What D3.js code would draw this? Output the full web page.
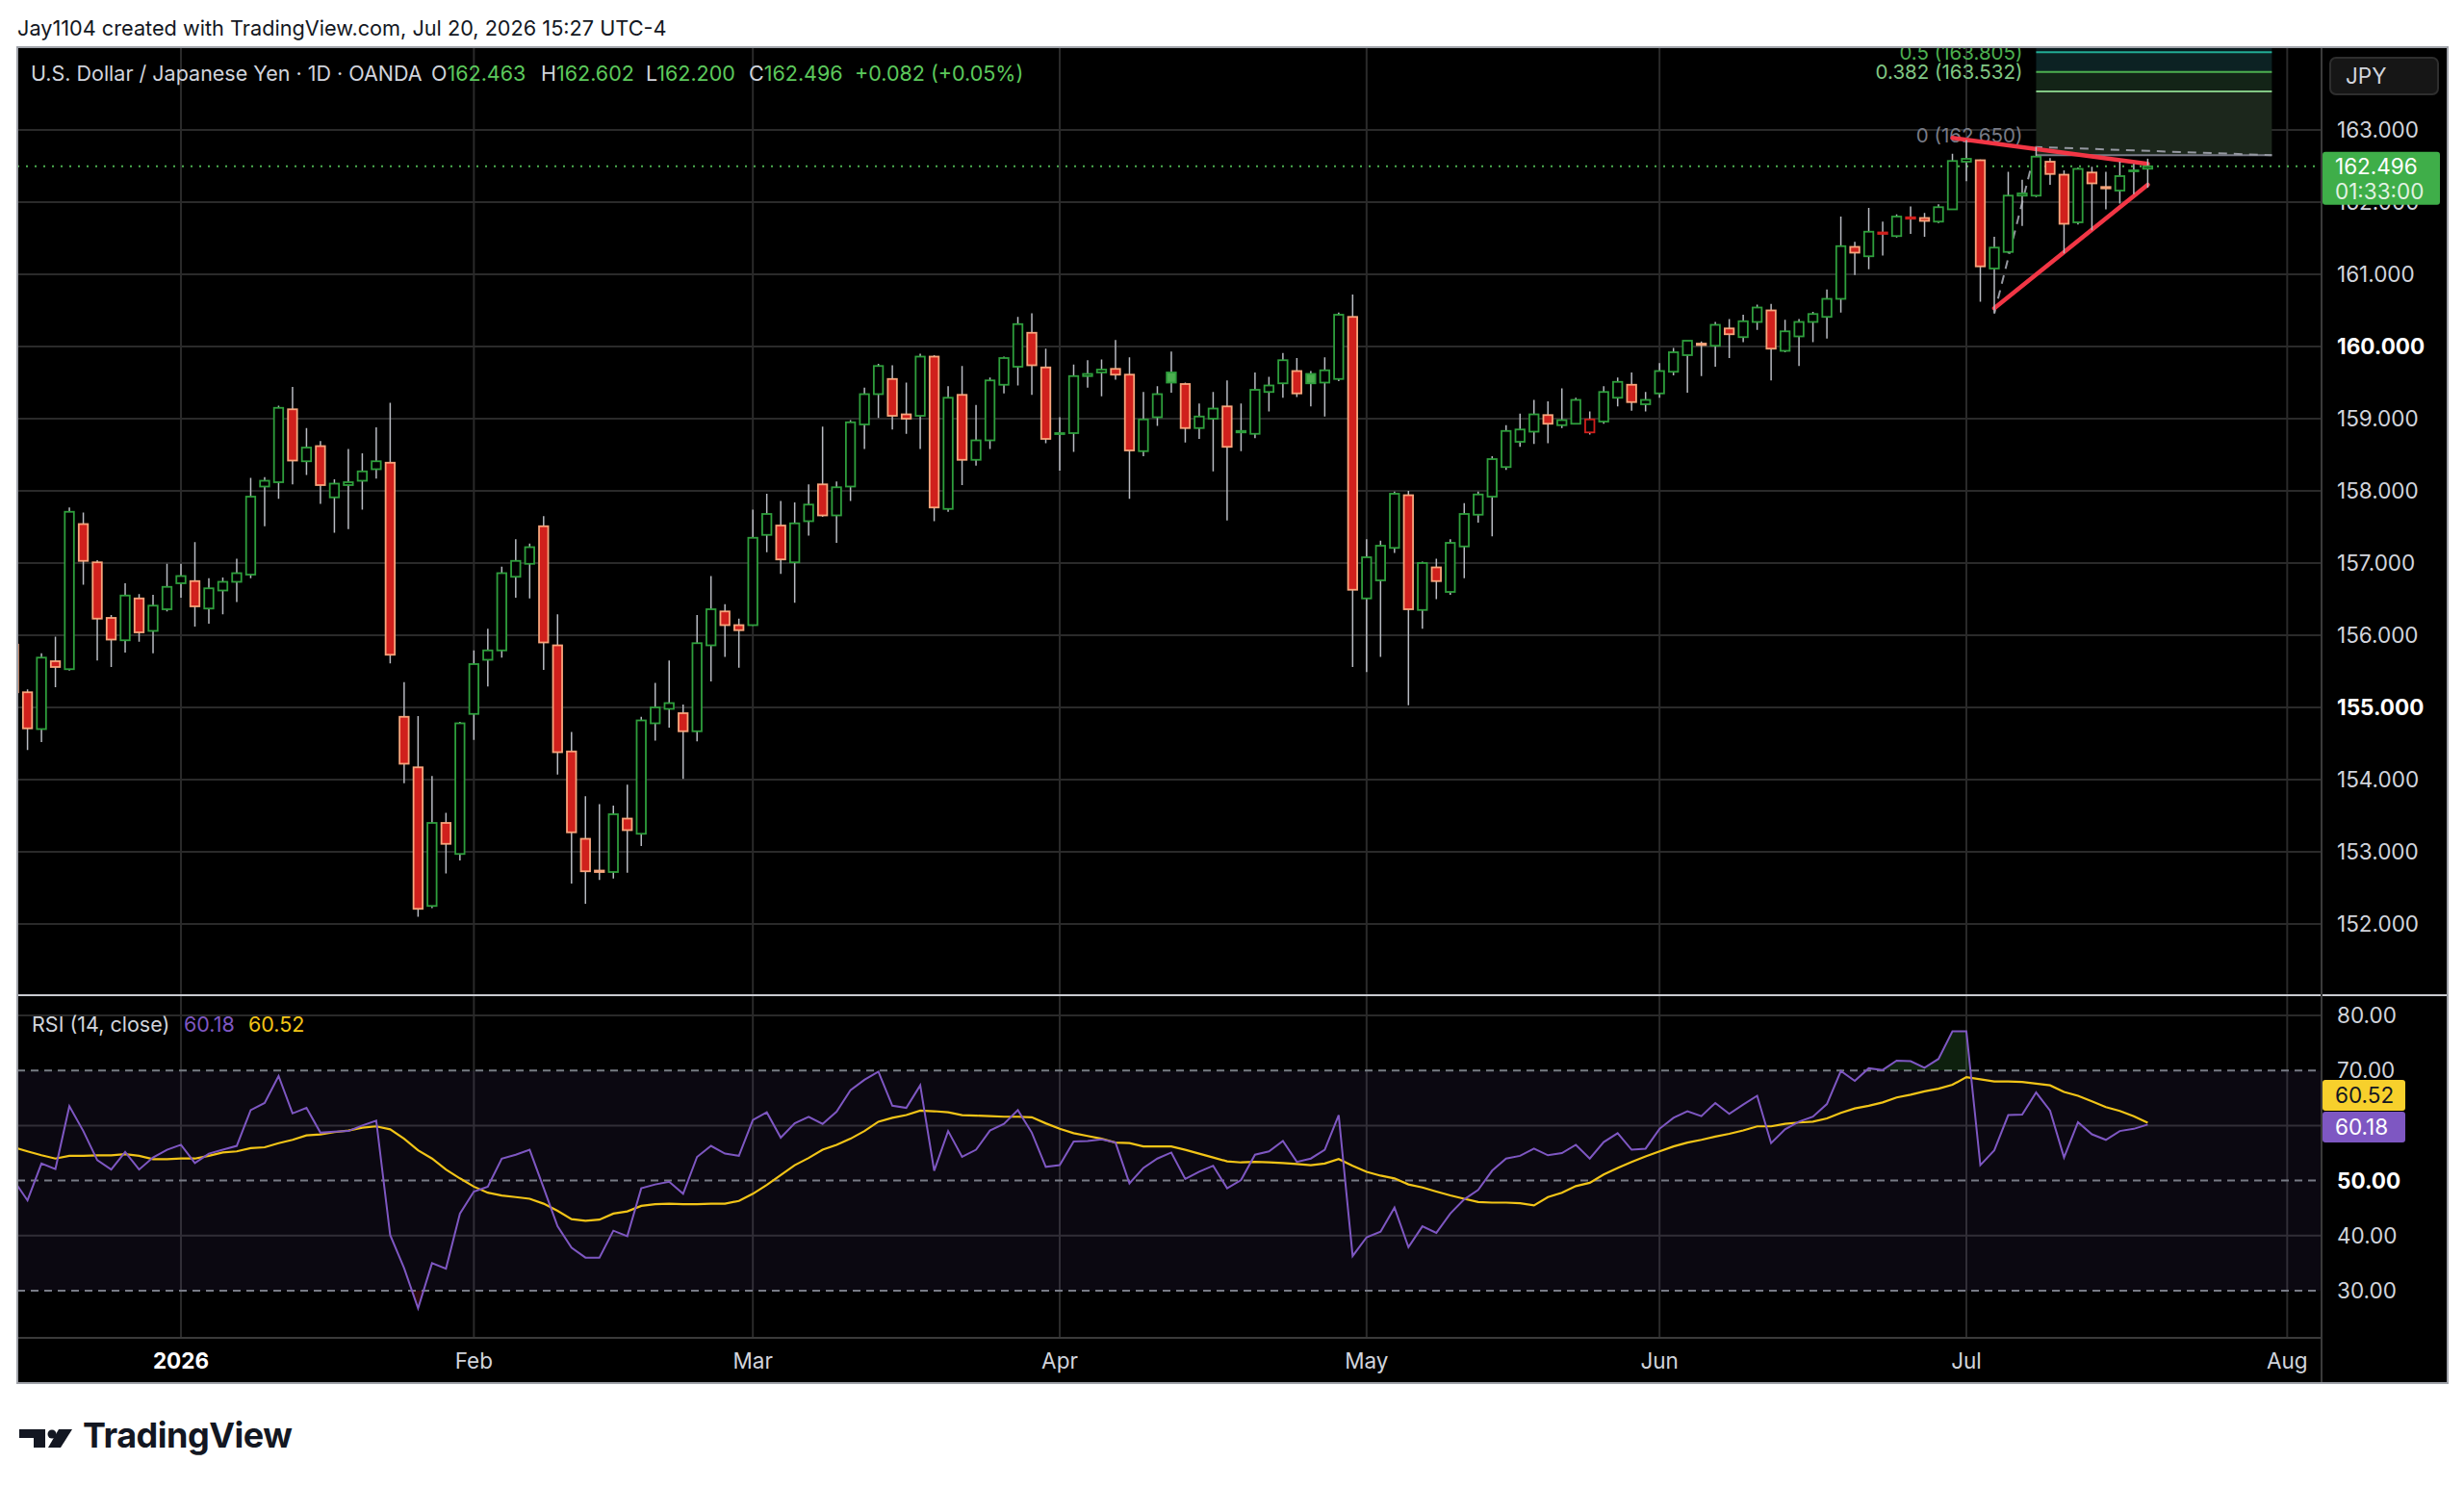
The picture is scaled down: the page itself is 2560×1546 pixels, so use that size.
<!DOCTYPE html>
<html><head><meta charset="utf-8">
<script src="https://cdn.jsdelivr.net/npm/d3@7/dist/d3.min.js"></script>
<style>
html,body{margin:0;padding:0;background:#fff;}
svg{display:block;font-family:Inter,Roboto,"Liberation Sans",sans-serif;}
</style></head><body>
<svg id="c" width="2560" height="1546"></svg>
<script>
// ---------- DATA ----------
const opens=[155.87,155.21,154.70,155.64,155.53,157.54,157.01,156.24,155.93,156.51,
156.06,156.36,156.72,156.75,156.37,156.62,156.74,156.84,158.06,158.12,
159.13,158.41,158.62,157.91,158.08,158.14,158.30,158.39,154.87,154.17,
152.25,153.40,152.97,154.91,155.66,155.79,156.81,156.99,157.51,155.86,
154.39,153.18,152.74,152.72,153.46,153.25,154.78,154.98,154.92,154.67,
155.86,156.33,156.14,156.14,157.39,157.52,157.01,157.58,158.09,157.66,
158.06,158.92,159.34,159.55,159.06,159.04,159.86,157.75,159.33,158.43,
158.70,159.47,159.72,160.19,159.71,158.79,158.80,159.59,159.64,159.69,
159.61,158.55,159.02,159.50,159.48,158.87,159.00,159.17,158.81,158.79,
159.37,159.49,159.66,159.49,159.50,159.55,160.41,156.51,156.76,157.21,
157.94,156.35,156.94,156.60,157.23,157.67,157.92,158.33,158.68,158.82,
159.05,158.91,158.93,158.99,158.96,159.29,159.47,159.20,159.35,159.65,
159.88,160.04,160.01,160.25,160.13,160.34,160.50,159.94,160.14,160.34,
160.41,160.66,161.38,161.25,161.58,161.53,161.79,161.78,161.73,161.90,
162.56,162.58,161.08,161.31,162.09,162.09,162.56,162.38,161.72,162.41,
162.21,162.16,162.43,162.463];
const highs=[155.95,155.25,155.75,155.98,157.77,157.70,157.04,156.28,156.72,156.57,
156.56,156.99,156.99,157.29,156.79,156.80,157.06,158.18,158.19,159.18,
159.44,158.87,158.69,158.16,158.58,158.52,158.88,159.22,155.35,154.88,
154.05,153.54,154.80,155.79,156.09,156.95,157.33,157.27,157.65,156.29,
154.66,153.77,153.66,153.64,153.93,154.87,155.34,155.65,155.04,156.28,
156.82,156.43,156.23,157.74,157.96,157.86,157.84,158.09,158.89,158.13,
158.98,159.43,159.76,159.74,159.50,159.90,159.88,159.45,159.73,159.19,
159.57,159.86,160.41,160.46,159.97,159.02,159.75,159.81,159.82,160.09,
159.85,159.37,159.45,159.93,159.50,159.21,159.37,159.53,159.21,159.64,
159.58,159.91,159.84,159.66,159.85,160.47,160.72,157.33,157.31,157.99,
158.00,157.02,157.06,157.33,157.83,157.99,158.48,158.91,159.07,159.26,
159.24,159.42,159.29,159.10,159.45,159.57,159.64,159.37,159.77,159.98,
160.08,160.07,160.34,160.38,160.44,160.58,160.59,160.37,160.38,160.48,
160.79,161.80,161.45,161.92,161.73,161.83,161.94,161.85,161.97,162.67,
162.86,162.59,161.52,162.42,162.31,162.76,162.61,162.44,162.48,162.49,
162.42,162.56,162.53,162.602];
const lows=[154.95,154.41,154.52,155.28,155.51,156.70,155.65,155.56,155.76,155.91,
155.75,156.33,156.52,156.12,156.16,156.29,156.46,156.79,157.51,157.89,
158.09,158.22,157.82,157.42,157.47,157.74,158.17,155.61,153.95,152.10,
152.22,152.70,152.88,154.55,155.29,155.69,156.52,156.51,155.52,154.07,
152.56,152.28,152.61,152.63,152.71,153.08,154.54,154.72,154.01,154.53,
155.36,155.70,155.55,156.13,157.15,156.85,156.45,157.38,157.64,157.28,
157.86,158.58,159.01,158.85,158.79,158.58,157.58,157.71,158.08,158.35,
158.58,159.35,159.46,159.33,158.66,158.28,158.54,159.43,159.31,159.54,
157.89,158.48,158.90,159.36,158.67,158.72,158.27,157.59,158.55,158.73,
159.10,159.29,159.30,159.17,159.03,159.52,155.56,155.49,155.70,157.14,
155.03,156.09,156.50,156.56,156.79,157.56,157.37,158.29,158.61,158.65,
158.66,158.87,158.92,158.78,158.93,159.17,159.11,159.10,159.29,159.60,
159.36,159.59,159.72,159.84,160.06,160.23,159.53,159.92,159.73,160.06,
160.11,160.47,160.99,161.07,161.26,161.51,161.56,161.52,161.71,161.90,
162.29,160.62,160.47,161.29,161.67,162.07,162.24,161.29,161.69,161.61,
161.90,161.98,162.11,162.200];
const closes=[155.21,154.71,155.69,155.56,157.71,157.03,156.23,155.94,156.55,156.04,
156.41,156.67,156.82,156.40,156.65,156.74,156.86,157.92,158.14,159.15,
158.42,158.60,158.08,158.10,158.12,158.27,158.41,155.73,154.22,152.21,
153.40,153.11,154.78,155.60,155.79,156.86,157.03,157.22,155.90,154.38,
153.27,152.73,152.72,153.52,153.30,154.82,155.00,155.06,154.67,155.89,
156.36,156.14,156.07,157.35,157.68,157.05,157.55,157.81,157.66,158.05,
158.95,159.34,159.73,159.04,159.00,159.86,157.77,159.29,158.43,158.70,
159.53,159.84,160.31,159.74,158.72,158.80,159.59,159.62,159.68,159.61,
158.56,158.99,159.34,159.64,158.87,159.03,159.14,158.61,158.83,159.40,
159.46,159.81,159.35,159.62,159.67,160.44,156.63,157.08,157.24,157.96,
156.36,157.00,156.75,157.28,157.68,157.95,158.44,158.83,158.85,159.06,
158.93,158.98,159.26,158.81,159.37,159.51,159.23,159.26,159.66,159.92,
160.08,160.02,160.30,160.17,160.35,160.54,159.97,160.21,160.34,160.45,
160.66,161.39,161.30,161.59,161.56,161.80,161.77,161.74,161.93,162.57,
162.60,161.11,161.37,162.09,162.12,162.63,162.39,161.70,162.46,162.26,
162.19,162.36,162.44,162.496];
const rsiValues=[50.1,46.4,53.1,52.1,63.5,59.0,53.7,52.0,55.2,52.0,
54.2,55.6,56.5,53.2,54.9,55.6,56.3,62.8,64.1,69.0,
62.2,63.2,58.7,58.9,59.0,60.0,60.9,40.1,34.1,26.8,
35.0,34.0,44.0,48.0,48.9,54.0,54.7,55.6,48.7,41.7,
37.8,36.0,36.0,40.9,39.9,48.6,49.3,49.8,47.6,54.3,
56.3,54.9,54.5,61.0,62.4,57.8,60.4,61.6,60.3,62.5,
66.4,68.3,69.8,63.6,63.2,67.3,51.8,59.0,54.3,55.6,
59.1,60.3,62.8,58.7,52.5,52.8,57.1,57.2,57.5,56.9,
49.5,52.3,54.0,55.1,50.3,51.6,52.7,48.6,50.1,54.7,
55.3,57.2,53.4,54.0,55.6,61.9,36.3,39.7,40.7,45.1,
37.9,41.7,40.5,44.0,46.6,48.3,51.8,54.0,54.5,55.8,
54.6,55.0,56.5,54.0,57.0,58.6,55.6,55.8,59.4,61.4,
62.6,61.7,64.1,62.1,63.8,65.4,56.8,59.3,60.7,61.6,
63.9,69.9,68.1,70.4,70.1,71.8,71.7,70.5,72.1,77.1,
77.1,52.8,55.5,61.9,62.0,66.0,62.7,54.2,60.6,58.4,
57.4,59.0,59.4,60.18];
const rsiMA=[56.05,55.3,54.6,54.0,54.5,54.5,54.6,54.6,54.8,54.5,
53.9,53.9,54.0,54.0,54.5,55.1,55.3,55.9,56.05,56.8,
57.4,58.2,58.4,58.8,59.1,59.6,59.85,59.3,57.6,55.5,
54.0,52.0,50.4,48.9,47.8,47.3,47.0,46.7,45.8,44.5,
43.0,42.7,42.9,44.0,44.4,45.4,45.7,45.8,45.7,45.7,
45.8,45.8,46.3,47.6,49.2,51.0,52.8,54.1,55.6,56.5,
57.6,59.0,60.7,61.4,61.9,62.7,62.6,62.4,61.9,61.8,
61.7,61.6,61.6,61.5,60.4,59.4,58.6,58.1,57.6,56.9,
56.8,56.2,56.2,56.2,55.6,54.9,54.2,53.5,53.3,53.4,
53.3,53.2,53.0,52.8,53.1,53.9,52.7,51.6,50.9,50.4,
49.3,48.75,48.0,47.3,46.7,46.1,46.0,46.0,45.9,45.5,
47.0,47.8,49.0,49.6,51.1,52.3,53.4,54.4,55.3,56.2,
56.9,57.4,58.0,58.5,59.1,59.85,59.85,60.3,60.55,60.7,
61.3,62.3,63.1,63.6,64.2,65.1,65.6,66.2,66.7,67.4,
68.8,68.4,68.0,68.0,67.9,67.6,67.3,66.1,65.4,64.4,
63.35,62.65,61.7,60.52];
const filledGreenBars=[83,93];
const hollowRedBars=[113,134,136];
const monthLabels=["2026","Feb","Mar","Apr","May","Jun","Jul","Aug"];
const monthBars=[12,33,53,75,97,118,140,163];
const priceTicks=[152,153,154,155,156,157,158,159,160,161,162,163];
const boldPriceTicks=[155,160];
const rsiSolidLevels=[80,60,40];
const rsiDashedLevels=[70,50,30];
const rsiAxisTicks=[80,70,50,40,30];
const fibRatios=["0","0.382","0.5","0.618"];
const fibPrices=[162.650,163.532,163.805,164.077];
const fibPoints=[{bar:142,price:160.455},{bar:145,price:162.764},{bar:161.9,price:162.650}];
const upperTrend=[{bar:139,price:162.89},{bar:153,price:162.53}];
const lowerTrend=[{bar:142,price:160.53},{bar:153,price:162.24}];
const lastPrice=162.496, lastRsi=60.18, lastMA=60.52;
const legendOHLC=[["O","162.463"],["H","162.602"],["L","162.200"],["C","162.496"]];

// ---------- LAYOUT ----------
const L=18,R=2543,T=49,B=1437,AX=2412,PB=1034,RB=1390;
const FS=21.5, FA=22.5;
const svg=d3.select("#c");
const x=d3.scaleLinear().domain([12,140]).range([188,2043]);
const y=d3.scaleLinear().domain([152,163]).range([960,135]);
const yr=d3.scaleLinear().domain([30,80]).range([1341,1055]);
const defs=svg.append("defs");
defs.append("clipPath").attr("id","cp").append("rect").attr("x",L).attr("y",T).attr("width",AX-L).attr("height",PB-T);
defs.append("clipPath").attr("id","cr").append("rect").attr("x",L).attr("y",PB).attr("width",AX-L).attr("height",RB-PB);
defs.append("clipPath").attr("id","cob").append("rect").attr("x",L).attr("y",PB).attr("width",AX-L).attr("height",yr(70)-PB);
defs.append("clipPath").attr("id","cos").append("rect").attr("x",L).attr("y",yr(30)).attr("width",AX-L).attr("height",RB-yr(30));

// header
svg.append("text").attr("x",18).attr("y",37).attr("font-size",21.7).attr("fill","#131722").text("Jay1104 created with TradingView.com, Jul 20, 2026 15:27 UTC-4");
// chart background
svg.append("rect").attr("x",L).attr("y",T).attr("width",R-L).attr("height",B-T).attr("fill","#000");

// grid
const grid=svg.append("g");
monthBars.forEach(b=>{grid.append("line").attr("x1",x(b)).attr("x2",x(b)).attr("y1",T).attr("y2",RB).attr("stroke","#2a2a2a").attr("stroke-width",2);});
priceTicks.forEach(p=>{grid.append("line").attr("x1",L).attr("x2",AX).attr("y1",y(p)).attr("y2",y(p)).attr("stroke","#2a2a2a").attr("stroke-width",2);});
svg.append("rect").attr("x",L).attr("y",yr(70)).attr("width",AX-L).attr("height",yr(30)-yr(70)).attr("fill","rgba(126,87,194,0.09)");
rsiSolidLevels.forEach(v=>{grid.append("line").attr("x1",L).attr("x2",AX).attr("y1",yr(v)).attr("y2",yr(v)).attr("stroke","#2a2a2a").attr("stroke-width",2);});
rsiDashedLevels.forEach(v=>{svg.append("line").attr("x1",L).attr("x2",AX).attr("y1",yr(v)).attr("y2",yr(v)).attr("stroke","#787b86").attr("stroke-width",2).attr("stroke-dasharray","8,6");});

// fib extension
const fg=svg.append("g").attr("clip-path","url(#cp)");
const fx0=x(fibPoints[1].bar), fx1=x(fibPoints[2].bar);
const zoneColors=["#1c271c","#132417","#0c2223","#0a1d20"];
const zoneTops=[fibPrices[1],fibPrices[2],fibPrices[3],165];
zoneTops.forEach((tp,i)=>{const lo=fibPrices[i];fg.append("rect").attr("x",fx0).attr("width",fx1-fx0).attr("y",y(tp)).attr("height",y(lo)-y(tp)).attr("fill",zoneColors[i]);});
const fibLineColors=["#787b86","#81c784","#4caf50","#22ab94"];
fibPrices.forEach((p,i)=>{
  fg.append("line").attr("x1",fx0).attr("x2",fx1).attr("y1",y(p)).attr("y2",y(p)).attr("stroke",fibLineColors[i]).attr("stroke-width",2);
  fg.append("text").attr("x",fx0-14).attr("y",y(p)-13).attr("text-anchor","end").attr("font-size",20.5).attr("fill",fibLineColors[i]).text(fibRatios[i]+" ("+p.toFixed(3)+")");
});

// price line
svg.append("line").attr("x1",L).attr("x2",AX).attr("y1",y(lastPrice)).attr("y2",y(lastPrice)).attr("stroke","#4caf50").attr("stroke-width",2).attr("stroke-dasharray","2,7");

// candles
const cg=svg.append("g").attr("clip-path","url(#cp)");
const bw=9.5;
opens.forEach((o,i)=>{
  const c=closes[i],h=highs[i],l=lows[i],cx=x(i);
  const up=c>=o;
  cg.append("line").attr("x1",cx).attr("x2",cx).attr("y1",y(h)).attr("y2",y(l)).attr("stroke","#b8bbc2").attr("stroke-width",1.5);
  let fill=up?"#000":"#d0201c", stroke=up?"#2e9e3c":"#f7a57c";
  if(filledGreenBars.includes(i)){fill="#4caf50";stroke="#2e9e3c";}
  if(hollowRedBars.includes(i)){fill="#000";stroke="#d0201c";}
  const yt=y(Math.max(o,c)), yb=y(Math.min(o,c));
  cg.append("rect").attr("x",cx-bw/2).attr("y",yt).attr("width",bw).attr("height",Math.max(1,yb-yt)).attr("fill",fill).attr("stroke",stroke).attr("stroke-width",1.8);
});

// fib dashed connector and trendlines
fg.append("path").attr("d",d3.line().x(d=>x(d.bar)).y(d=>y(d.price))(fibPoints)).attr("fill","none").attr("stroke","#9598a1").attr("stroke-width",2).attr("stroke-dasharray","9,7");
[upperTrend,lowerTrend].forEach(t=>{
  fg.append("path").attr("d",d3.line().x(d=>x(d.bar)).y(d=>y(d.price))(t)).attr("stroke","#f23645").attr("stroke-width",4.5).attr("stroke-linecap","round").attr("fill","none");
});

// RSI
const rg=svg.append("g").attr("clip-path","url(#cr)");
const idx=d3.range(rsiValues.length);
rg.append("g").attr("clip-path","url(#cob)").append("path").attr("d",d3.area().x(i=>x(i)).y0(yr(70)).y1(i=>yr(rsiValues[i]))(idx)).attr("fill","rgba(76,175,80,0.18)");
rg.append("g").attr("clip-path","url(#cos)").append("path").attr("d",d3.area().x(i=>x(i)).y0(yr(30)).y1(i=>yr(rsiValues[i]))(idx)).attr("fill","rgba(242,54,69,0.18)");
rg.append("path").attr("d",d3.line().x(i=>x(i)).y(i=>yr(rsiMA[i]))(idx)).attr("fill","none").attr("stroke","#f2c417").attr("stroke-width",2.2);
rg.append("path").attr("d",d3.line().x(i=>x(i)).y(i=>yr(rsiValues[i]))(idx)).attr("fill","none").attr("stroke","#7e57c2").attr("stroke-width",2);

// pane separators / axes
svg.append("rect").attr("x",AX).attr("y",T).attr("width",R-AX).attr("height",B-T).attr("fill","#000");
svg.append("rect").attr("x",L).attr("y",RB).attr("width",AX-L).attr("height",B-RB).attr("fill","#000");
svg.append("line").attr("x1",L).attr("x2",R).attr("y1",PB).attr("y2",PB).attr("stroke","#c9cbd1").attr("stroke-width",2);
svg.append("line").attr("x1",AX).attr("x2",AX).attr("y1",T).attr("y2",B).attr("stroke","#3a3a3a").attr("stroke-width",2);
svg.append("line").attr("x1",L).attr("x2",AX).attr("y1",RB).attr("y2",RB).attr("stroke","#3a3a3a").attr("stroke-width",2);

// price axis labels
const ax=svg.append("g").attr("font-size",FA).attr("fill","#d1d4dc");
priceTicks.forEach(p=>{ax.append("text").attr("x",2428).attr("y",y(p)+8).attr("font-weight",boldPriceTicks.includes(p)?"bold":"normal").attr("fill",boldPriceTicks.includes(p)?"#ffffff":"#d1d4dc").text(p.toFixed(3));});
// JPY box
svg.append("rect").attr("x",2421).attr("y",60).attr("width",112).attr("height",38).attr("rx",6).attr("fill","#161616").attr("stroke","#2e2e2e").attr("stroke-width",2);
svg.append("text").attr("x",2437).attr("y",87).attr("font-size",FA).attr("fill","#d1d4dc").text("JPY");
// last price label
svg.append("rect").attr("x",2413).attr("y",y(lastPrice)-15).attr("width",122).attr("height",55).attr("rx",3).attr("fill","#3fae49");
svg.append("text").attr("x",2426).attr("y",y(lastPrice)+8).attr("font-size",FA).attr("fill","#fff").text(lastPrice.toFixed(3));
svg.append("text").attr("x",2426).attr("y",y(lastPrice)+34).attr("font-size",FA).attr("fill","#fff").attr("fill-opacity",0.85).text("01:33:00");
// RSI axis labels
rsiAxisTicks.forEach(v=>{ax.append("text").attr("x",2428).attr("y",yr(v)+8).attr("font-weight",v===50?"bold":"normal").attr("fill",v===50?"#ffffff":"#d1d4dc").text(v.toFixed(2));});
svg.append("rect").attr("x",2413).attr("y",1122).attr("width",86).attr("height",32).attr("rx",3).attr("fill","#f7d02c");
svg.append("text").attr("x",2426).attr("y",1146).attr("font-size",FA).attr("fill","#131722").text(lastMA.toFixed(2));
svg.append("rect").attr("x",2413).attr("y",1155).attr("width",86).attr("height",32).attr("rx",3).attr("fill","#7e57c2");
svg.append("text").attr("x",2426).attr("y",1179).attr("font-size",FA).attr("fill","#fff").text(lastRsi.toFixed(2));

// time axis labels
monthLabels.forEach((m,i)=>{svg.append("text").attr("x",x(monthBars[i])).attr("y",1422).attr("text-anchor","middle").attr("font-size",FA).attr("font-weight",i===0?"bold":"normal").attr("fill",i===0?"#ffffff":"#d1d4dc").text(m);});

// legends
const lg=svg.append("g").attr("font-size",FS);
lg.append("text").attr("x",32).attr("y",84).attr("fill","#d1d4dc").text("U.S. Dollar / Japanese Yen · 1D · OANDA");
const lx=[448,562,671,778];
legendOHLC.forEach((d,i)=>{const t=lg.append("text").attr("x",lx[i]).attr("y",84).attr("fill","#d1d4dc");t.append("tspan").text(d[0]);t.append("tspan").attr("fill","#5cc95c").text(d[1]);});
lg.append("text").attr("x",888).attr("y",84).attr("fill","#5cc95c").text("+0.082 (+0.05%)");
lg.append("text").attr("x",33).attr("y",1072).attr("fill","#d1d4dc").text("RSI (14, close)");
lg.append("text").attr("x",191).attr("y",1072).attr("fill","#7e57c2").text(lastRsi.toFixed(2));
lg.append("text").attr("x",258).attr("y",1072).attr("fill","#f2c417").text(lastMA.toFixed(2));

// frame
svg.append("rect").attr("x",L).attr("y",T).attr("width",R-L).attr("height",B-T).attr("fill","none").attr("stroke","#a0a3aa").attr("stroke-width",2);

// logo
const lgo=svg.append("g").attr("fill","#131722");
lgo.append("path").attr("d","M20 1485 H47 V1504 H35 V1494 H20 Z");
lgo.append("circle").attr("cx",54).attr("cy",1490).attr("r",4.5);
lgo.append("path").attr("d","M61 1485 H75 L63 1504 H50 Z");
lgo.append("text").attr("x",86).attr("y",1504).attr("font-size",36).attr("font-weight","bold").attr("letter-spacing",-0.5).text("TradingView");
</script>
</body></html>
